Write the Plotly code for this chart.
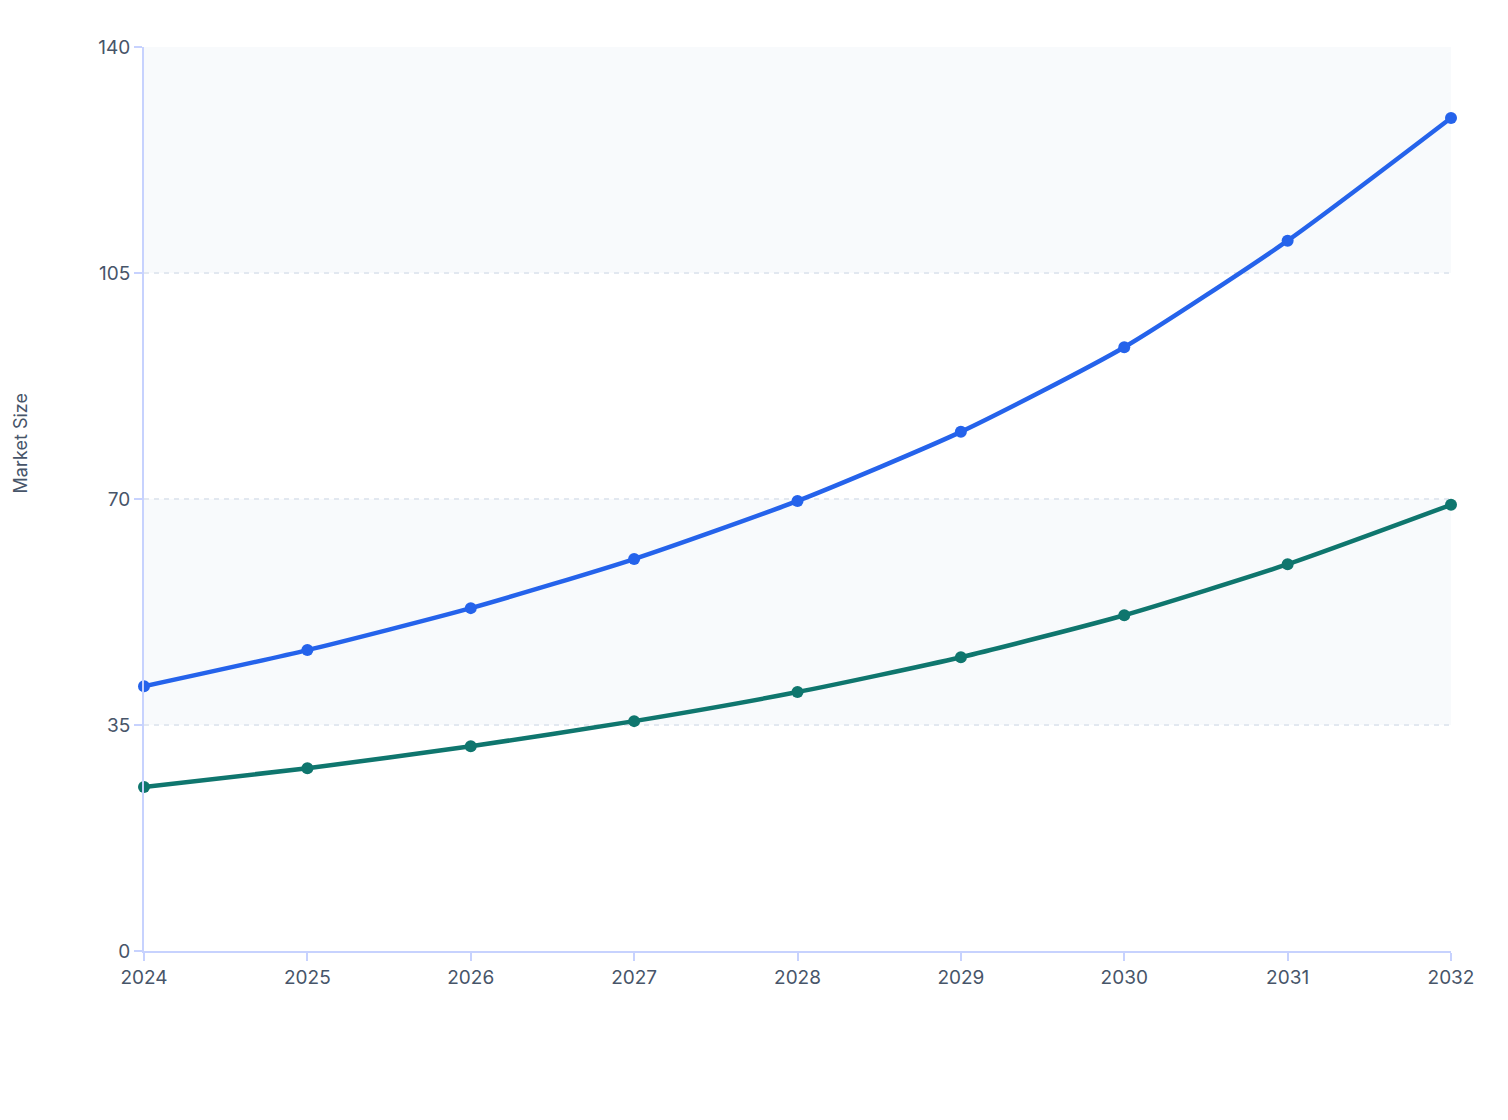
import plotly.graph_objects as go

years = [2024, 2025, 2026, 2027, 2028, 2029, 2030, 2031, 2032]
series_a_name = "Series A"
series_a = [41.0, 46.6, 53.1, 60.7, 69.7, 80.4, 93.5, 110.0, 129.0]
series_b_name = "Series B"
series_b = [25.4, 28.3, 31.7, 35.6, 40.1, 45.5, 52.0, 59.9, 69.1]
y_ticks = [0, 35, 70, 105, 140]
bands = [(35, 70), (105, 140)]
y_title = "Market Size"

fig = go.Figure()

for lo, hi in bands:
    fig.add_shape(type="rect", xref="x", yref="y", x0=years[0], x1=years[-1],
                  y0=lo, y1=hi, fillcolor="#f8fafc", line_width=0, layer="below")

fig.add_trace(go.Scatter(x=years, y=series_b, name=series_b_name, mode="lines+markers",
                         line=dict(color="#0f766e", width=4.5, shape="spline", smoothing=0.6),
                         marker=dict(size=12, color="#0f766e"), cliponaxis=False))
fig.add_trace(go.Scatter(x=years, y=series_a, name=series_a_name, mode="lines+markers",
                         line=dict(color="#2563eb", width=4.5, shape="spline", smoothing=0.6),
                         marker=dict(size=12, color="#2563eb"), cliponaxis=False))

fig.add_annotation(text=y_title, xref="paper", yref="paper", x=-0.0945, y=0.562,
                   xanchor="center", yanchor="middle", textangle=-90, showarrow=False,
                   font=dict(size=18, color="#475569"))

axis_color = "#c7d2fe"
fig.update_layout(
    width=1508, height=1120,
    margin=dict(l=136, r=65, t=39, b=177),
    paper_bgcolor="white", plot_bgcolor="white",
    showlegend=False,
    font=dict(family="Inter, sans-serif", color="#475569", size=19),
    xaxis=dict(range=[years[0], years[-1]], tickvals=years, ticktext=[str(y) for y in years],
               showgrid=False, zeroline=False, showline=True, linecolor=axis_color, linewidth=2,
               ticks="outside", ticklen=8, tickcolor=axis_color, tickwidth=2, automargin=False,
               tickfont=dict(size=19, color="#475569")),
    yaxis=dict(range=[0, 140], tickvals=y_ticks, showgrid=True, gridcolor="#e2e8f0",
               griddash="5px,5px", gridwidth=1.5, zeroline=False, showline=True,
               linecolor=axis_color, linewidth=2, ticks="outside", ticklen=8,
               tickcolor=axis_color, tickwidth=2, automargin=False,
               tickfont=dict(size=19, color="#475569")),
)

fig.write_html("out.html")
